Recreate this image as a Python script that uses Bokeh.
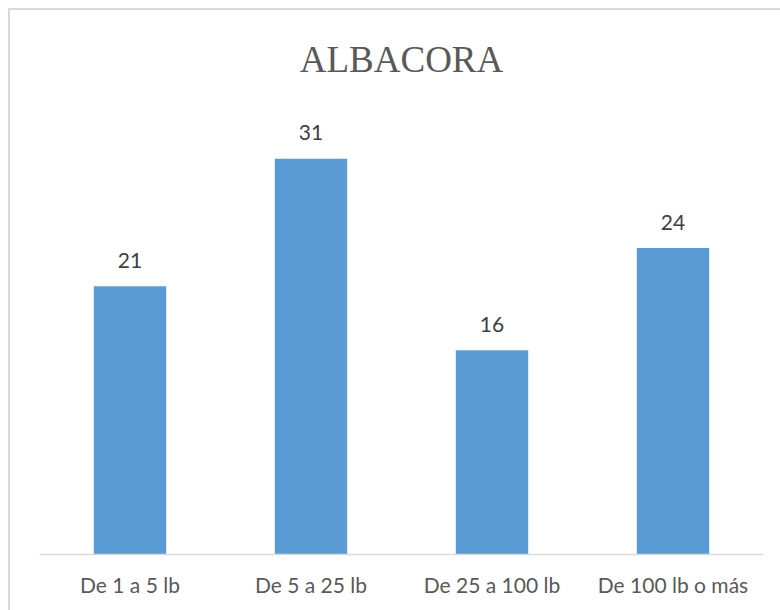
from bokeh.plotting import figure
from bokeh.models import Range1d, FactorRange
from bokeh.core.properties import value
from bokeh.embed import file_html
from bokeh.resources import INLINE

# Weight classes and catch counts
categories = ["De 1 a 5 lb", "De 5 a 25 lb", "De 25 a 100 lb", "De 100 lb o más"]
counts = [21, 31, 16, 24]
title_text = "ALBACORA"

BAR_COLOR = "#5B9BD5"
LABEL_FONT = "Lato"

p = figure(
    width=780, height=610,
    x_range=FactorRange(factors=categories, range_padding=0),
    y_range=Range1d(0, 34.3),
    output_backend="svg", toolbar_location=None,
    min_border_left=39, min_border_right=17,
    min_border_top=100, min_border_bottom=56,
    title=title_text,
)

# transparent canvas so the page-level frame line shows through
p.border_fill_color = None
p.background_fill_color = None
p.styles = {
    "box-shadow": "inset 8px 8px 0 0 #FFFFFF, inset 10px 10px 0 0 #D9D9D9",
    "background-color": "#FFFFFF",
}

p.vbar(x=categories, top=counts, width=0.4, color=BAR_COLOR, line_color=None)

# value labels above each bar
p.text(
    x=categories, y=counts, text=[str(c) for c in counts],
    text_align="center", text_baseline="alphabetic", y_offset=-26,
    text_font=value(LABEL_FONT), text_font_size="21px", text_color="#404040",
)

t = p.title
t.align = "center"
t.text_font = "Liberation Serif"
t.text_font_size = "37px"
t.text_font_style = "normal"
t.text_color = "#595959"
t.standoff = 73

p.yaxis.visible = False
p.xgrid.grid_line_color = None
p.ygrid.grid_line_color = None
p.outline_line_color = None

ax = p.xaxis[0]
ax.axis_line_color = "#D9D9D9"
ax.axis_line_width = 1.5
ax.major_tick_line_color = None
ax.minor_tick_line_color = None
ax.major_label_text_font = LABEL_FONT
ax.major_label_text_font_size = "21px"
ax.major_label_text_color = "#595959"
ax.major_label_standoff = 11

open("out.html", "w").write(file_html(p, INLINE))
